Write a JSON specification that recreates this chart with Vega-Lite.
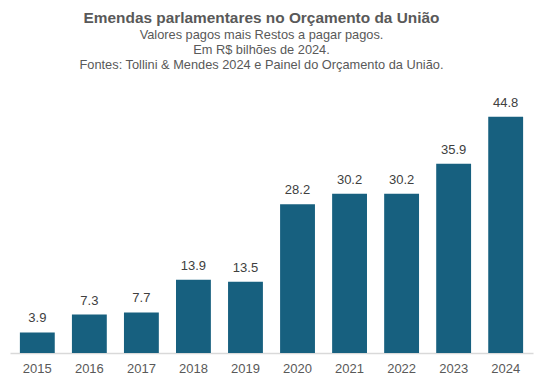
{
  "$schema": "https://vega.github.io/schema/vega-lite/v6.json",
  "width": 523,
  "height": 253,
  "autosize": "none",
  "padding": {"left": 10, "top": 100, "right": 11, "bottom": 29},
  "background": "white",
  "title": {
    "text": "Emendas parlamentares no Orçamento da União",
    "subtitle": ["Valores pagos mais Restos a pagar pagos.", "Em R$ bilhões de 2024.", "Fontes: Tollini & Mendes 2024 e Painel do Orçamento da União."],
    "anchor": "middle",
    "dx": -10,
    "font": "Liberation Sans",
    "fontSize": 15.4,
    "fontWeight": "bold",
    "color": "#595959",
    "subtitleFont": "Liberation Sans",
    "subtitleFontSize": 12.8,
    "subtitleColor": "#595959",
    "subtitlePadding": 3,
    "subtitleLineHeight": 15,
    "offset": 25
  },
  "data": {
    "values": [
      {"ano": "2015", "valor": 3.9},
      {"ano": "2016", "valor": 7.3},
      {"ano": "2017", "valor": 7.7},
      {"ano": "2018", "valor": 13.9},
      {"ano": "2019", "valor": 13.5},
      {"ano": "2020", "valor": 28.2},
      {"ano": "2021", "valor": 30.2},
      {"ano": "2022", "valor": 30.2},
      {"ano": "2023", "valor": 35.9},
      {"ano": "2024", "valor": 44.8}
    ]
  },
  "encoding": {
    "x": {
      "field": "ano",
      "type": "ordinal",
      "scale": {"paddingInner": 0.33, "paddingOuter": 0.19},
      "axis": {
        "title": null,
        "ticks": false,
        "labelAngle": 0,
        "labelFont": "Liberation Sans",
        "labelFontSize": 13,
        "labelColor": "#595959",
        "labelPadding": 9,
        "domainColor": "#d9d9d9",
        "domainWidth": 1.5
      }
    },
    "y": {
      "field": "valor",
      "type": "quantitative",
      "scale": {"domain": [0, 48], "nice": false},
      "axis": null
    }
  },
  "layer": [
    {"mark": {"type": "bar", "color": "#17607f"}},
    {
      "mark": {"type": "text", "baseline": "bottom", "dy": -7, "font": "Liberation Sans", "fontSize": 13, "color": "#404040"},
      "encoding": {"text": {"field": "valor", "type": "quantitative", "format": ".1f"}}
    }
  ],
  "config": {"view": {"stroke": null}}
}
